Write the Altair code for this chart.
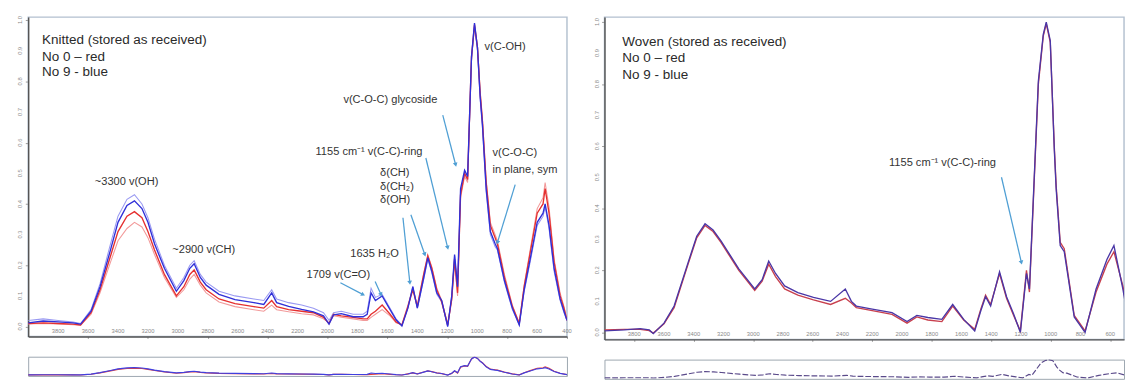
import math
import altair as alt
import pandas as pd

# ---------------- data ----------------
knit_wn = [4000, 3900, 3800, 3700, 3650, 3580, 3520, 3450, 3400, 3340,
           3290, 3240, 3200, 3156, 3090, 3010, 2960, 2920, 2891, 2850,
           2811, 2725, 2618, 2492, 2426, 2373, 2340, 2260, 2173, 2094,
           2027, 1990, 1960, 1908, 1828, 1762, 1735, 1709, 1680, 1635,
           1582, 1542, 1503, 1463, 1430, 1400, 1357, 1330, 1303, 1270,
           1237, 1197, 1170, 1151, 1131, 1111, 1084, 1064, 1050, 1038,
           1018, 998, 980, 965, 940, 912, 880, 865, 818, 765,
           719, 686, 646, 599, 560, 546, 520, 486, 446, 420, 400]
knit_no9_a = [0.012, 0.018, 0.015, 0.012, 0.008, 0.05, 0.13, 0.25, 0.34, 0.395,
              0.41, 0.385, 0.34, 0.27, 0.19, 0.115, 0.15, 0.19, 0.205, 0.16,
              0.135, 0.105, 0.088, 0.078, 0.072, 0.11, 0.078, 0.066, 0.056, 0.048,
              0.035, 0.008, 0.038, 0.042, 0.032, 0.032, 0.04, 0.11, 0.085, 0.10,
              0.055, 0.022, 0.002, 0.06, 0.13, 0.06, 0.16, 0.225, 0.18, 0.11,
              0.085, 0.0, 0.10, 0.235, 0.13, 0.45, 0.51, 0.49, 0.70, 0.88,
              0.99, 0.91, 0.75, 0.66, 0.45, 0.31, 0.27, 0.255, 0.15, 0.06,
              0.005, 0.12, 0.22, 0.34, 0.37, 0.40, 0.33, 0.19, 0.09, 0.05, 0.02]
knit_no9_b = [0.02, 0.025, 0.02, 0.015, 0.01, 0.055, 0.14, 0.27, 0.36, 0.415,
              0.43, 0.40, 0.355, 0.285, 0.20, 0.125, 0.16, 0.20, 0.215, 0.17,
              0.145, 0.115, 0.10, 0.09, 0.085, 0.12, 0.09, 0.078, 0.07, 0.06,
              0.045, 0.02, 0.045, 0.05, 0.04, 0.04, 0.05, 0.125, 0.095, 0.105,
              0.06, 0.025, 0.005, 0.06, 0.13, 0.06, 0.155, 0.22, 0.175, 0.105,
              0.08, 0.0, 0.10, 0.23, 0.125, 0.44, 0.50, 0.48, 0.69, 0.87,
              0.98, 0.90, 0.74, 0.65, 0.44, 0.30, 0.26, 0.25, 0.145, 0.055,
              0.005, 0.115, 0.21, 0.33, 0.36, 0.39, 0.32, 0.18, 0.085, 0.045, 0.02]
knit_no0_a = [0.01, 0.012, 0.01, 0.008, 0.005, 0.045, 0.12, 0.23, 0.31, 0.36,
              0.375, 0.355, 0.31, 0.25, 0.17, 0.10, 0.13, 0.17, 0.185, 0.145,
              0.12, 0.09, 0.075, 0.065, 0.06, 0.085, 0.065, 0.055, 0.05, 0.045,
              0.03, 0.01, 0.04, 0.035, 0.03, 0.025, 0.025, 0.04, 0.05, 0.07,
              0.04, 0.015, 0.005, 0.065, 0.12, 0.065, 0.17, 0.23, 0.19, 0.12,
              0.08, 0.005, 0.09, 0.22, 0.11, 0.43, 0.50, 0.48, 0.70, 0.88,
              0.985, 0.91, 0.76, 0.67, 0.47, 0.33, 0.29, 0.27, 0.16, 0.065,
              0.01, 0.13, 0.24, 0.37, 0.40, 0.45, 0.37, 0.21, 0.10, 0.06, 0.02]
knit_no0_b = [0.008, 0.01, 0.008, 0.006, 0.004, 0.04, 0.11, 0.21, 0.28, 0.32,
              0.34, 0.325, 0.29, 0.235, 0.16, 0.095, 0.12, 0.155, 0.17, 0.135,
              0.11, 0.08, 0.065, 0.055, 0.05, 0.07, 0.055, 0.048, 0.042, 0.038,
              0.025, 0.012, 0.035, 0.03, 0.025, 0.02, 0.02, 0.03, 0.04, 0.055,
              0.035, 0.012, 0.006, 0.07, 0.125, 0.07, 0.175, 0.235, 0.195, 0.125,
              0.085, 0.008, 0.085, 0.21, 0.10, 0.42, 0.49, 0.47, 0.69, 0.87,
              0.98, 0.915, 0.77, 0.68, 0.48, 0.34, 0.30, 0.28, 0.17, 0.07,
              0.012, 0.135, 0.25, 0.385, 0.42, 0.47, 0.39, 0.22, 0.11, 0.065, 0.025]

woven_wn = [4000, 3866, 3760, 3699, 3672, 3600, 3532, 3438, 3380, 3324,
            3270, 3217, 3097, 2990, 2940, 2896, 2850, 2789, 2700, 2595,
            2480, 2381, 2340, 2307, 2200, 2067, 1966, 1900, 1826, 1732,
            1659, 1585, 1511, 1470, 1438, 1404, 1344, 1297, 1250, 1204,
            1163, 1143, 1117, 1083, 1050, 1030, 1003, 976, 963, 936,
            909, 842, 769, 695, 622, 575, 515, 500]
woven_no9 = [0.005, 0.008, 0.012, 0.008, -0.004, 0.03, 0.085, 0.225, 0.31, 0.35,
             0.33, 0.295, 0.205, 0.14, 0.17, 0.23, 0.19, 0.15, 0.128, 0.113,
             0.10, 0.14, 0.10, 0.085, 0.075, 0.064, 0.035, 0.055, 0.048, 0.042,
             0.09, 0.042, 0.005, 0.07, 0.115, 0.085, 0.195, 0.115, 0.06, 0.0,
             0.19, 0.14, 0.43, 0.81, 0.96, 1.0, 0.94, 0.59, 0.46, 0.28,
             0.26, 0.05, 0.0, 0.14, 0.235, 0.28, 0.14, 0.10]
woven_no0 = [0.008, 0.01, 0.01, 0.006, -0.002, 0.028, 0.08, 0.22, 0.305, 0.345,
             0.325, 0.29, 0.20, 0.135, 0.165, 0.22, 0.18, 0.14, 0.12, 0.105,
             0.09, 0.11, 0.095, 0.08, 0.07, 0.058, 0.03, 0.05, 0.04, 0.035,
             0.085, 0.04, 0.01, 0.075, 0.12, 0.09, 0.19, 0.11, 0.055, 0.005,
             0.2, 0.13, 0.42, 0.80, 0.955, 0.995, 0.935, 0.6, 0.47, 0.29,
             0.27, 0.055, 0.005, 0.13, 0.22, 0.26, 0.15, 0.11]

x_tick_values = [3800, 3600, 3400, 3200, 3000, 2800, 2600, 2400, 2200, 2000,
                 1800, 1600, 1400, 1200, 1000, 800, 600, 400]
y_tick_values = [0, 0.1, 0.2, 0.3, 0.4, 0.5, 0.6, 0.7, 0.8, 0.9, 1.0]

knit_title = ["Knitted (stored as received)", "No 0 \u2013 red", "No 9 - blue"]
knit_title_wn = [3907, 3907, 3907]
knit_title_a = [0.935, 0.879, 0.831]
woven_title = ["Woven (stored as received)", "No 0 \u2013 red", "No 9 - blue"]
woven_title_wn = [3880, 3880, 3880]
woven_title_a = [0.936, 0.884, 0.83]

knit_note_text = ["v(C-OH)", "v(C-O-C) glycoside", "1155 cm\u207b\u00b9 v(C-C)-ring",
                  "\u03b4(CH)", "\u03b4(CH\u2082)", "\u03b4(OH)", "v(C-O-C)", "in plane, sym",
                  "~3300 v(OH)", "~2900 v(CH)", "1635 H\u2082O", "1709 v(C=O)"]
knit_note_wn = [951, 1894, 2080, 1649, 1649, 1649, 898, 898, 3555, 3037, 1848, 2140]
knit_note_a = [0.912, 0.739, 0.57, 0.502, 0.456, 0.414, 0.567, 0.511, 0.472, 0.248, 0.235, 0.169]

knit_arrow_wn1 = [1230, 1343, 1496, 1443, 746, 1682, 1914]
knit_arrow_a1 = [0.69, 0.55, 0.355, 0.365, 0.463, 0.147, 0.143]
knit_arrow_wn2 = [1144, 1197, 1450, 1350, 865, 1642, 1762]
knit_arrow_a2 = [0.528, 0.257, 0.143, 0.235, 0.274, 0.104, 0.104]

woven_note_text = ["1155 cm\u207b\u00b9 v(C-C)-ring"]
woven_note_wn = [2087]
woven_note_a = [0.547]
woven_arrow_wn1 = [1331]
woven_arrow_a1 = [0.50]
woven_arrow_wn2 = [1197]
woven_arrow_a2 = [0.225]

# ---------------- styling ----------------
FONT = "Liberation Sans"
ARROW = "#4f9fd4"
TEXT = "#333333"
TICK_LABEL = "#8a8a8a"
Y_EXT = 18   # width reserved for the y axis
X_EXT = 12   # height reserved for the x axis


def spectrum(wn, vals):
    return pd.DataFrame({"wn": wn, "a": vals})


def x_enc(dom, axis=True):
    ax = alt.Axis(values=x_tick_values, labels=False, tickSize=2, tickColor="#999999",
                  domainColor="#555555", domainWidth=1.5, grid=False, title=None,
                  minExtent=X_EXT, maxExtent=X_EXT) if axis else None
    return alt.X("wn:Q", scale=alt.Scale(domain=dom, reverse=True, nice=False, zero=False), axis=ax)


def y_enc(dom, axis=True):
    ax = alt.Axis(values=y_tick_values, labels=False, tickSize=3, tickColor="#999999",
                  domainColor="#555555", domainWidth=1.5, grid=False, title=None,
                  minExtent=Y_EXT, maxExtent=Y_EXT) if axis else None
    return alt.Y("a:Q", scale=alt.Scale(domain=dom, nice=False, zero=False), axis=ax)


def head_angles(w1, a1, w2, a2, px_wn, px_a):
    out = []
    for x1, y1, x2, y2 in zip(w1, a1, w2, a2):
        dx = -(x2 - x1) * px_wn
        dy = -(y2 - y1) * px_a
        out.append(math.degrees(math.atan2(dx, -dy)) % 360)
    return out


def main_panel(series, xdom, ydom, width, height, title, title_wn, title_a,
               notes, notes_wn, notes_a, aw1, aa1, aw2, aa2):
    X = x_enc(xdom)
    Y = y_enc(ydom)
    layers = []
    first = True
    for df, color, sw in series:
        layers.append(alt.Chart(df).mark_line(color=color, strokeWidth=sw, clip=True)
                      .encode(x=X if first else alt.X("wn:Q"), y=Y if first else alt.Y("a:Q")))
        first = False
    # tick labels (small grey numbers under / beside the axes)
    xl = pd.DataFrame({"wn": [v for v in x_tick_values if xdom[0] <= v <= xdom[1]]})
    xl["t"] = xl["wn"].astype(str)
    layers.append(alt.Chart(xl).mark_text(font=FONT, fontSize=6, color=TICK_LABEL,
                                          baseline="middle", align="center")
                  .encode(x="wn:Q", y=alt.value(height + 6), text="t:N"))
    yl = pd.DataFrame({"a": y_tick_values, "t": [f"{v:.1f}" for v in y_tick_values]})
    layers.append(alt.Chart(yl).mark_text(font=FONT, fontSize=6, color=TICK_LABEL,
                                          angle=270, baseline="middle", align="center")
                  .encode(y="a:Q", x=alt.value(-8), text="t:N"))
    arrows = pd.DataFrame({"wn": aw1, "a": aa1, "wn2": aw2, "a2": aa2})
    px_wn = width / abs(xdom[1] - xdom[0])
    px_a = height / (ydom[1] - ydom[0])
    heads = pd.DataFrame({"wn": aw2, "a": aa2,
                          "ang": head_angles(aw1, aa1, aw2, aa2, px_wn, px_a)})
    layers.append(alt.Chart(arrows).mark_rule(color=ARROW, strokeWidth=1.3)
                  .encode(x="wn:Q", y="a:Q", x2="wn2:Q", y2="a2:Q"))
    layers.append(alt.Chart(heads).mark_point(shape="triangle-up", filled=True, color=ARROW,
                                              opacity=1, size=24)
                  .encode(x="wn:Q", y="a:Q", angle=alt.Angle("ang:Q", scale=None)))
    nd = pd.DataFrame({"wn": notes_wn, "a": notes_a, "t": notes})
    layers.append(alt.Chart(nd).mark_text(align="left", baseline="middle", font=FONT,
                                          fontSize=11.5, color=TEXT)
                  .encode(x="wn:Q", y="a:Q", text="t:N"))
    td = pd.DataFrame({"wn": title_wn, "a": title_a, "t": title})
    layers.append(alt.Chart(td).mark_text(align="left", baseline="middle", font=FONT,
                                          fontSize=14, color="#2a2a2a")
                  .encode(x="wn:Q", y="a:Q", text="t:N"))
    # the renderer here counts the axis band inside width/height, so add it back
    return alt.layer(*layers).properties(
        width=width + Y_EXT, height=height + X_EXT,
        view=alt.ViewBackground(stroke="#b3c0cf", strokeWidth=1.5))


def mini_panel(series, xdom, width, height, dash=None):
    X = x_enc(xdom, axis=False)
    Y = y_enc([-0.05, 1.0], axis=False)
    layers = []
    for df, color in series:
        kw = dict(color=color, strokeWidth=1.2, clip=True)
        if dash:
            kw["strokeDash"] = dash
        layers.append(alt.Chart(df).mark_line(**kw).encode(x=X, y=Y))
    return alt.layer(*layers).properties(
        width=width, height=height,
        view=alt.ViewBackground(stroke="#9aa4ae", strokeWidth=1))


k9a = spectrum(knit_wn, knit_no9_a)
k9b = spectrum(knit_wn, knit_no9_b)
k0a = spectrum(knit_wn, knit_no0_a)
k0b = spectrum(knit_wn, knit_no0_b)
w9 = spectrum(woven_wn, woven_no9)
w0 = spectrum(woven_wn, woven_no0)

left_main = main_panel(
    [(k0b, "#f29a9a", 1.1), (k9b, "#9a9af2", 1.1), (k0a, "#e53030", 1.4), (k9a, "#2f2fd8", 1.4)],
    [400, 4000], [-0.0326, 1.0098], 542, 320,
    knit_title, knit_title_wn, knit_title_a,
    knit_note_text, knit_note_wn, knit_note_a,
    knit_arrow_wn1, knit_arrow_a1, knit_arrow_wn2, knit_arrow_a2)

right_main = main_panel(
    [(w0, "#c8404e", 1.4), (w9, "#4a36a6", 1.4)],
    [507, 4000], [-0.0225, 1.016], 522, 323,
    woven_title, woven_title_wn, woven_title_a,
    woven_note_text, woven_note_wn, woven_note_a,
    woven_arrow_wn1, woven_arrow_a1, woven_arrow_wn2, woven_arrow_a2)

left_mini = mini_panel([(k0a, "#e04040"), (k9a, "#4040e0")], [400, 4000], 560, 20)
right_mini = mini_panel([(w9, "#5a4a8a")], [527, 4000], 540, 20, dash=[6, 2])

chart = alt.hconcat(
    alt.vconcat(left_main, left_mini, spacing=7),
    alt.vconcat(right_main, right_mini, spacing=7),
    spacing=14,
).properties(
    padding={"left": 2, "top": 0, "right": 0, "bottom": 0},
).configure(
    background="white", font=FONT,
)

chart.save("out.html", embed_options={"renderer": "svg", "actions": False})
